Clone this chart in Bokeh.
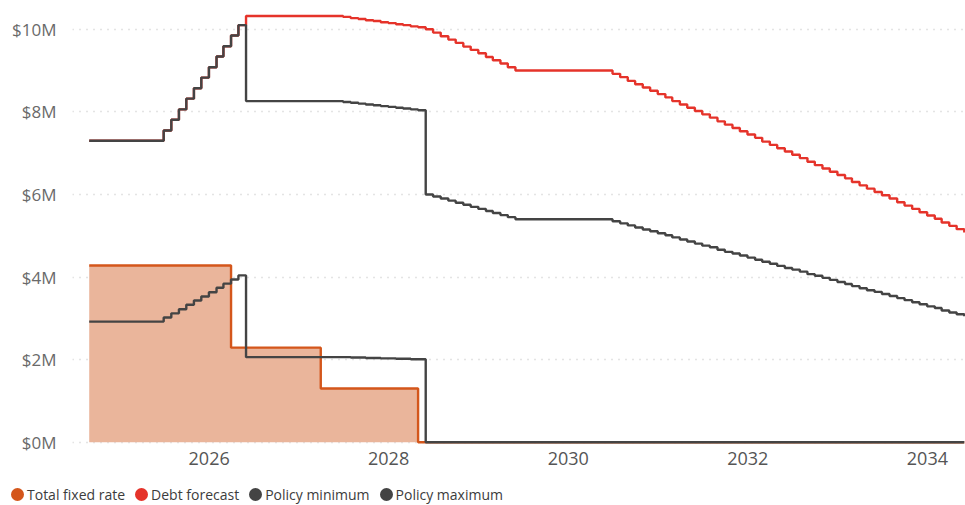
import pandas as pd
from bokeh.plotting import figure
from bokeh.layouts import column
from bokeh.models import (ColumnDataSource, Range1d, FixedTicker, PrintfTickFormatter,
                          DatetimeTickFormatter, Legend, LegendItem)
from bokeh.embed import file_html
from bokeh.resources import INLINE

# ---------------- data (values in $M, one value per month-end) ----------------
first_month_end = "2024-08-31"

total_fixed_rate = ([4.28] * 19 + [2.29] * 12 + [1.30] * 13 + [0.0] * 74)

debt_forecast = ([7.30] * 10
                 + [7.55, 7.81, 8.06, 8.32, 8.57, 8.83, 9.08, 9.34, 9.59, 9.85, 10.10]
                 + [10.32] * 13
                 + [10.30, 10.27, 10.25, 10.22, 10.20, 10.17, 10.15, 10.12, 10.10, 10.07, 10.05]
                 + [10.00, 9.92, 9.83, 9.75, 9.67, 9.58, 9.50, 9.42, 9.33, 9.25, 9.17, 9.08, 9.00]
                 + [9.00] * 12
                 + [8.92, 8.84, 8.75, 8.67, 8.59, 8.51, 8.43, 8.35, 8.26, 8.18, 8.10, 8.02,
                    7.94, 7.86, 7.77, 7.69, 7.61, 7.53, 7.45, 7.37, 7.28, 7.20, 7.12, 7.04,
                    6.96, 6.88, 6.79, 6.71, 6.63, 6.55, 6.47, 6.39, 6.30, 6.22, 6.14, 6.06,
                    5.98, 5.90, 5.81, 5.73, 5.65, 5.57, 5.49, 5.41, 5.32, 5.24, 5.16, 5.08])

policy_minimum = ([2.92] * 10
                  + [3.02, 3.12, 3.22, 3.33, 3.43, 3.53, 3.63, 3.74, 3.84, 3.94, 4.04]
                  + [2.06] * 13
                  + [2.06, 2.05, 2.05, 2.04, 2.04, 2.03, 2.03, 2.02, 2.02, 2.01, 2.01]
                  + [0.0] * 73)

policy_maximum = ([7.30] * 10
                  + [7.55, 7.81, 8.06, 8.32, 8.57, 8.83, 9.08, 9.34, 9.59, 9.85, 10.10]
                  + [8.26] * 13
                  + [8.24, 8.22, 8.20, 8.18, 8.16, 8.14, 8.12, 8.10, 8.08, 8.06, 8.04]
                  + [6.00, 5.95, 5.90, 5.85, 5.80, 5.75, 5.70, 5.65, 5.60, 5.55, 5.50, 5.45, 5.40]
                  + [5.40] * 12
                  + [5.35, 5.30, 5.25, 5.20, 5.15, 5.11, 5.06, 5.01, 4.96, 4.91, 4.86, 4.81,
                     4.76, 4.72, 4.66, 4.61, 4.57, 4.52, 4.47, 4.42, 4.37, 4.32, 4.27, 4.22,
                     4.18, 4.13, 4.07, 4.03, 3.98, 3.93, 3.88, 3.83, 3.78, 3.73, 3.68, 3.64,
                     3.59, 3.54, 3.49, 3.44, 3.39, 3.34, 3.29, 3.25, 3.19, 3.14, 3.10, 3.05])

y_ticks = [0, 2, 4, 6, 8, 10]
x_tick_years = [2026, 2028, 2030, 2032, 2034]
legend_labels = ["Total fixed rate", "Debt forecast", "Policy minimum", "Policy maximum"]
legend_fields = ["fixed", "debt", "pmin", "pmax"]

n = len(debt_forecast)
assert len(total_fixed_rate) == n == len(policy_minimum) == len(policy_maximum)
dates = pd.date_range(first_month_end, periods=n, freq=pd.offsets.MonthEnd())

src = ColumnDataSource(dict(date=dates, fixed=total_fixed_rate, debt=debt_forecast,
                            pmin=policy_minimum, pmax=policy_maximum))

# ---------------- styles ----------------
FONT = "Open Sans"
ORANGE = "#D4561B"
ORANGE_FILL = "#EAB59B"
RED = "#E5332A"
DARK = "#444444"
LW = 2.4

p = figure(width=965, height=475, x_axis_type="datetime",
           output_backend="svg", toolbar_location=None,
           x_range=Range1d(pd.Timestamp("2024-06-24"), pd.Timestamp("2034-06-05")),
           y_range=Range1d(-0.08, 10.6),
           min_border_left=72, min_border_right=0, min_border_top=4, min_border_bottom=30)
p.frame_align = False
p.outline_line_color = None
p.background_fill_color = "white"
p.border_fill_color = "white"

p.varea_step(x="date", y1=0, y2="fixed", step_mode="after", source=src,
             fill_color=ORANGE_FILL, fill_alpha=1.0)
p.step(x="date", y="fixed", mode="after", source=src, line_color=ORANGE, line_width=LW)
p.step(x="date", y="debt", mode="after", source=src, line_color=RED, line_width=LW)
p.step(x="date", y="pmin", mode="after", source=src, line_color=DARK, line_width=LW)
p.step(x="date", y="pmax", mode="after", source=src, line_color=DARK, line_width=LW)

# axes
p.xaxis.ticker = FixedTicker(ticks=[pd.Timestamp(f"{y}-01-01").value / 1e6 for y in x_tick_years])
p.xaxis.formatter = DatetimeTickFormatter(years="%Y", months="%Y", days="%Y")
p.yaxis.ticker = FixedTicker(ticks=y_ticks)
p.yaxis.formatter = PrintfTickFormatter(format="$%dM")
for ax in (p.xaxis[0], p.yaxis[0]):
    ax.axis_line_color = None
    ax.major_tick_line_color = None
    ax.minor_tick_line_color = None
    ax.major_label_text_font = FONT
p.xaxis.major_label_text_font_size = "18px"
p.yaxis.major_label_text_font_size = "17px"
p.xaxis.major_label_text_color = "#555555"
p.yaxis.major_label_text_color = "#6A6A6A"
p.xaxis.major_label_standoff = 0
p.yaxis.major_label_standoff = 10

p.xgrid.visible = False
p.ygrid.grid_line_color = "#C8C8C8"
p.ygrid.grid_line_dash = "1 6"
p.ygrid.grid_line_width = 1.5

# ---------------- legend strip (circle markers) ----------------
lf = figure(width=965, height=30, output_backend="svg", toolbar_location=None,
            x_axis_location=None, y_axis_location=None,
            x_range=Range1d(0, 1), y_range=Range1d(0, 1),
            min_border_left=0, min_border_right=0, min_border_top=0, min_border_bottom=0)
lf.frame_align = False
lf.grid.visible = False
lf.outline_line_color = None
lf.background_fill_color = "white"
lf.border_fill_color = "white"

legend_colors = [ORANGE, RED, DARK, DARK]
items = []
for lab, fld, col in zip(legend_labels, legend_fields, legend_colors):
    # hidden renderer: only its legend swatch (a circle) is drawn
    r = lf.scatter(x="date", y=fld, source=src, marker="circle", size=8,
                   fill_color=col, line_color=col, line_width=5, visible=False)
    items.append(LegendItem(label=lab, renderers=[r]))

legend = Legend(items=items, location=(7, -5), orientation="horizontal",
                glyph_width=20, glyph_height=32, label_standoff=0, spacing=6,
                padding=0, margin=0, border_line_color=None, background_fill_alpha=0,
                label_text_font=FONT, label_text_font_size="14px",
                label_text_color="#3C3C3C")
lf.add_layout(legend)

layout = column(p, lf, spacing=0)
open("out.html", "w").write(file_html(layout, INLINE))
